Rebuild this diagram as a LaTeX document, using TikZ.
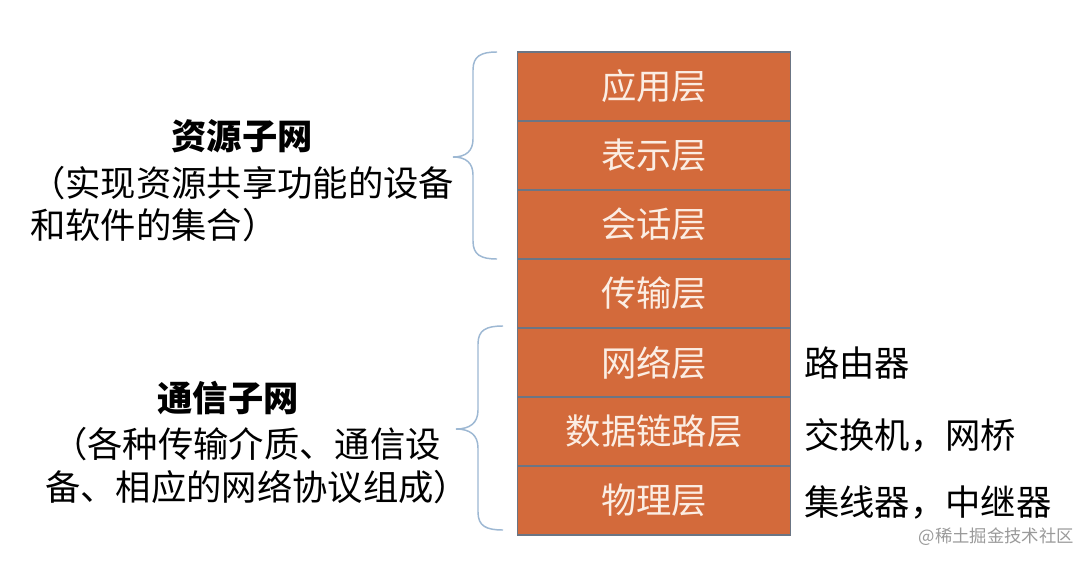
\documentclass[tikz,border=0pt]{standalone}
\usepackage{fontspec}
\setmainfont{Noto Sans CJK SC}
\newfontfamily\cjk{Noto Sans CJK SC}
\definecolor{layerfill}{HTML}{D36A3B}
\definecolor{layerline}{HTML}{6B7584}
\definecolor{layertext}{HTML}{FBEDE3}
\definecolor{bracecol}{HTML}{9DB8D3}
\definecolor{marktext}{HTML}{9A9A9A}
\begin{document}
\begin{tikzpicture}[x=0.75pt,y=-0.75pt,
  layer/.style={draw=layerline, line width=0.8pt, fill=layerfill, text=layertext,
    minimum width=204.75pt, minimum height=51.75pt, inner sep=0pt,
    font=\cjk\fontsize{26.5}{30}\selectfont},
  lbl/.style={inner sep=0pt, anchor=west, text=black, font=\cjk\fontsize{26.5}{30}\selectfont},
  ttl/.style={inner sep=0pt, text=black, font=\cjk\bfseries\fontsize{26.5}{30}\selectfont},
  bracestyle/.style={draw=bracecol, line width=1.1pt}]
\useasboundingbox (0,0) rectangle (1092,564);
\fill[white] (0,0) rectangle (1092,564);
% layers
\node[layer] (app) at (654,86.5) {应用层};
\node[layer] (pre) at (654,155.5) {表示层};
\node[layer] (ses) at (654,224.5) {会话层};
\node[layer] (tra) at (654,293.5) {传输层};
\node[layer] (net) at (654,362.5) {网络层};
\node[layer] (dl) at (654,431.5) {数据链路层};
\node[layer] (phy) at (654,500.5) {物理层};
% right labels
\node[lbl] (router) at (804,363) {路由器};
\node[lbl] (switch) at (804,435) {交换机，网桥};
\node[lbl] (hub) at (804,502) {集线器，中继器};
% left texts
\node[ttl] (res) at (242,136) {资源子网};
\node[lbl] (res1) at (30,183) {（实现资源共享功能的设备};
\node[lbl] (res2) at (30,225) {和软件的集合）};
\node[ttl] (com) at (228,398) {通信子网};
\node[lbl] (com1) at (52,444) {（各种传输介质、通信设};
\node[lbl] (com2) at (45,487) {备、相应的网络协议组成）};
% braces
\draw[bracestyle] (497,52) .. controls (481,52) and (473,56) .. (473,70) -- (473,139)
  .. controls (473,151) and (466,157) .. (453,157)
  .. controls (466,157) and (473,163) .. (473,175) -- (473,241)
  .. controls (473,255) and (481,259) .. (497,259);
\draw[bracestyle] (503,326) .. controls (486,326) and (478,330) .. (478,344) -- (478,410)
  .. controls (478,423) and (470,429) .. (456,429)
  .. controls (470,429) and (478,435) .. (478,448) -- (478,512)
  .. controls (478,526) and (486,530) .. (503,530);
% watermark
\node[inner sep=0pt, anchor=east, text=marktext, font=\cjk\fontsize{13}{15}\selectfont] (mark) at (1074,537) {@稀土掘金技术社区};
\end{tikzpicture}
\end{document}
